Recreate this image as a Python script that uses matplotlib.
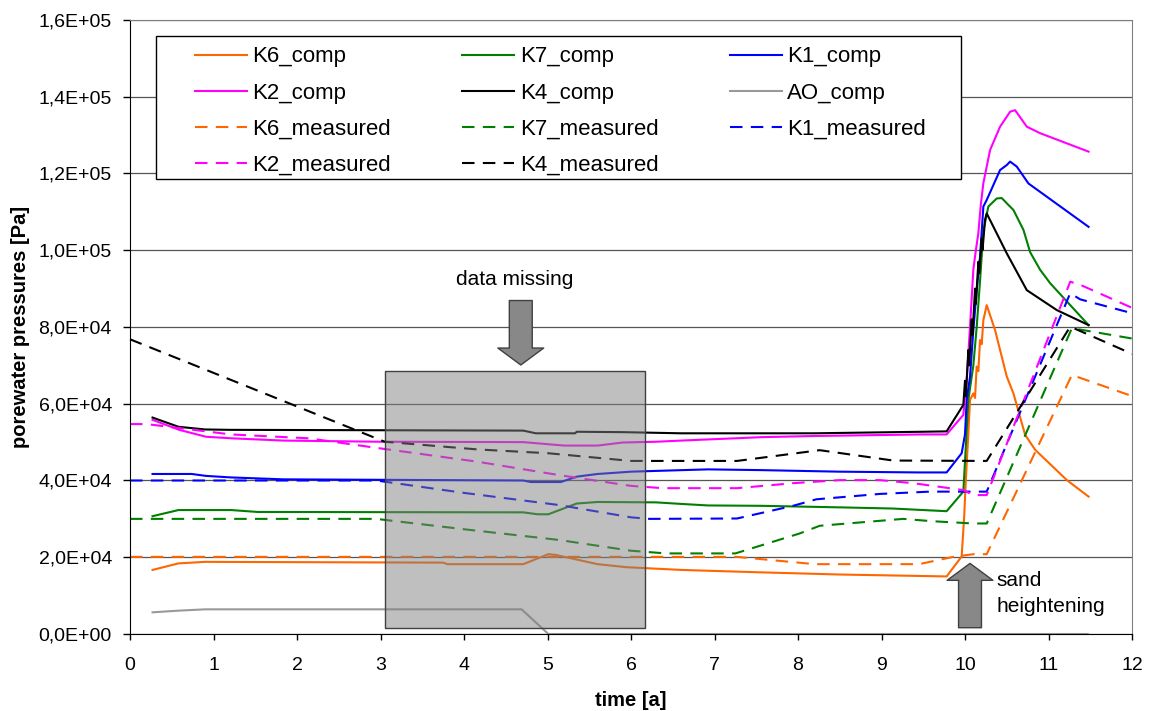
import matplotlib
matplotlib.use('Agg')
import matplotlib.pyplot as plt
from matplotlib.patches import Rectangle
from matplotlib.ticker import FuncFormatter, MultipleLocator

plt.rcParams['font.family'] = ['Liberation Sans', 'DejaVu Sans']

# ---- computed series (time [a], porewater pressure [Pa]) ----
k6_comp_t = [0.27, 0.58, 0.9, 3.75, 3.8, 4.71, 5.01, 5.1, 5.6, 5.95, 6.6, 7.5, 8.5, 9.78,
             9.96, 9.99, 10.01, 10.04, 10.06, 10.1, 10.12, 10.14, 10.16, 10.18, 10.2, 10.22,
             10.26, 10.36, 10.5, 10.58, 10.72, 10.84, 11.22, 11.48]
k6_comp_p = [16700, 18400, 18800, 18600, 18200, 18200, 20800, 20600, 18200, 17400, 16700, 16100, 15500, 15000,
             20200, 30600, 40100, 52300, 61000, 62700, 61500, 69700, 68500, 76600, 75500, 81800,
             85700, 79200, 67100, 62700, 51900, 48000, 40100, 35800]

k7_comp_t = [0.27, 0.58, 1.21, 1.53, 4.71, 4.88, 5.01, 5.35, 5.6, 6.3, 6.6, 6.92, 7.57, 8.5, 9.13, 9.78,
             9.98, 10.0, 10.04, 10.1, 10.14, 10.18, 10.22, 10.28, 10.38, 10.44, 10.52, 10.58, 10.7,
             10.78, 10.9, 11.02, 11.48]
k7_comp_p = [30700, 32300, 32300, 31800, 31700, 31200, 31200, 34000, 34400, 34300, 33900, 33500, 33400, 33000, 32700, 32000,
             37100, 45000, 61000, 70000, 80000, 92000, 105000, 111400, 113500, 113600, 111800, 110500, 105300,
             99500, 94900, 91400, 80500]

k1_comp_t = [0.27, 0.74, 0.91, 1.21, 1.84, 4.71, 4.8, 5.16, 5.35, 5.6, 6.0, 6.3, 6.92, 7.57, 8.5, 9.45, 9.78,
             9.96, 10.0, 10.02, 10.06, 10.1, 10.14, 10.18, 10.22, 10.26, 10.42, 10.5, 10.54, 10.62, 10.76, 11.48]
k1_comp_p = [41700, 41700, 41200, 40800, 40300, 40000, 39600, 39600, 41000, 41700, 42300, 42500, 42900, 42700, 42300, 42100, 42100,
             47100, 52000, 61000, 67000, 79200, 89600, 98300, 111400, 113100, 120900, 122200, 123100, 121800, 117400, 106100]

k2_comp_t = [0.27, 0.59, 0.91, 1.21, 1.84, 3.0, 4.71, 5.2, 5.6, 5.9, 6.3, 6.6, 6.92, 7.25, 7.57, 8.2, 9.48, 9.78,
             9.98, 10.02, 10.06, 10.1, 10.13, 10.16, 10.19, 10.22, 10.3, 10.42, 10.54, 10.6, 10.74, 10.9, 11.48]
k2_comp_p = [55800, 53200, 51400, 51000, 50400, 50100, 50000, 49100, 49100, 49900, 50100, 50400, 50700, 51000, 51300, 51600, 52000, 52000,
             57100, 66000, 80000, 95000, 100000, 104500, 112000, 117500, 126100, 132200, 136100, 136500, 132200, 130500, 125700]

k4_comp_t = [0.27, 0.58, 0.9, 1.2, 4.71, 4.86, 5.33, 5.35, 5.9, 6.6, 8.2, 9.48, 9.78,
             9.98, 10.0, 10.01, 10.04, 10.05, 10.08, 10.09, 10.12, 10.13, 10.16, 10.17, 10.2, 10.21, 10.24,
             10.26, 10.5, 10.74, 11.1, 11.48]
k4_comp_p = [56400, 54000, 53300, 53200, 53000, 52300, 52300, 52700, 52600, 52300, 52300, 52700, 52800,
             59700, 66000, 62000, 74000, 70000, 82000, 78000, 90000, 86000, 97000, 94000, 103000, 100000, 108000,
             109600, 99200, 89600, 84400, 80500]

ao_comp_t = [0.27, 0.58, 0.9, 4.69, 5.01, 11.47]
ao_comp_p = [5650, 6080, 6430, 6430, 0, 0]

# ---- measured series ----
k6_meas_t = [0, 7.27, 8.2, 9.45, 9.86, 10.1, 10.26, 11.28, 12]
k6_meas_p = [20100, 20100, 18200, 18200, 20100, 20800, 20800, 67500, 62000]

k7_meas_t = [0, 2.95, 4.0, 5.14, 6.0, 6.42, 7.25, 8.02, 8.26, 9.26, 9.6, 10.1, 10.26, 11.28, 12]
k7_meas_p = [30000, 30000, 27300, 24500, 21700, 21000, 21000, 26200, 28200, 30000, 29400, 28800, 28800, 79700, 77000]

k1_meas_t = [0, 2.95, 3.99, 5.14, 6.0, 6.22, 7.27, 7.94, 8.22, 8.98, 9.58, 10.26, 11.26, 11.38, 12]
k1_meas_p = [40000, 40000, 36800, 33600, 30400, 30000, 30100, 33400, 35100, 36500, 37100, 37100, 88800, 87200, 83600]

k2_meas_t = [0, 0.2, 1.21, 2.14, 2.92, 4.16, 5.14, 6.0, 6.38, 7.27, 7.94, 8.5, 8.98, 9.38, 9.98, 10.1, 10.26, 11.26, 11.38, 12]
k2_meas_p = [54700, 54700, 52000, 51000, 48600, 44900, 41400, 38600, 38000, 38000, 39300, 40100, 40100, 39300, 37500, 36200, 36200, 91800, 91000, 85000]

k4_meas_t = [0, 3.05, 4.16, 5.01, 6.0, 7.27, 8.26, 9.14, 10.26, 11.26, 12]
k4_meas_p = [76800, 50100, 48100, 47100, 45100, 45100, 47900, 45200, 45100, 80100, 73000]

x_ticks = list(range(0, 13))

# annotation geometry (data coordinates)
box_x0, box_x1, box_y0, box_y1 = 3.05, 6.17, 1560, 68500
miss_x, miss_tip, miss_tail = 4.68, 70100, 86900
sand_x, sand_tip, sand_tail = 10.06, 18400, 1640

ORANGE = '#FF6600'
GREEN = '#008000'
BLUE = '#0000FF'
MAGENTA = '#FF00FF'
BLACK = '#000000'
GREY = '#999999'
DASH = (6, 4)

fig = plt.figure(figsize=(11.49, 7.11), dpi=100)
ax = fig.add_axes([130 / 1149, 77 / 711, 1002 / 1149, 614 / 711])

series = [
    ('K6_comp', k6_comp_t, k6_comp_p, ORANGE, None),
    ('K7_comp', k7_comp_t, k7_comp_p, GREEN, None),
    ('K1_comp', k1_comp_t, k1_comp_p, BLUE, None),
    ('K2_comp', k2_comp_t, k2_comp_p, MAGENTA, None),
    ('K4_comp', k4_comp_t, k4_comp_p, BLACK, None),
    ('AO_comp', ao_comp_t, ao_comp_p, GREY, None),
    ('K6_measured', k6_meas_t, k6_meas_p, ORANGE, DASH),
    ('K7_measured', k7_meas_t, k7_meas_p, GREEN, DASH),
    ('K1_measured', k1_meas_t, k1_meas_p, BLUE, DASH),
    ('K2_measured', k2_meas_t, k2_meas_p, MAGENTA, DASH),
    ('K4_measured', k4_meas_t, k4_meas_p, BLACK, DASH),
]

handles = []
for name, t, p, col, dash in series:
    line, = ax.plot(t, p, color=col, lw=1.5, label=name, clip_on=False,
                    solid_joinstyle='round', zorder=2)
    if dash:
        line.set_dashes(dash)
    handles.append(line)

ax.set_xlim(0, 12)
ax.set_ylim(0, 160000)
ax.set_xticks(x_ticks)
ax.yaxis.set_major_locator(MultipleLocator(20000))
ax.yaxis.set_major_formatter(FuncFormatter(lambda v, pos: f'{v:.1E}'.replace('.', ',')))
ax.yaxis.grid(True, color='#555555', lw=0.9)
ax.set_axisbelow(True)

for s in ['top', 'right']:
    ax.spines[s].set_color('#808080')
for s in ['left', 'bottom']:
    ax.spines[s].set_color('black')

ax.tick_params(axis='x', direction='out', length=4.3, width=1, labelsize=14, pad=12)
ax.tick_params(axis='y', direction='out', length=5, width=1, labelsize=14, pad=8)

ax.set_xlabel('time [a]', fontsize=14.5, fontweight='bold')
ax.set_ylabel('porewater pressures [Pa]', fontsize=14.5, fontweight='bold')
ax.xaxis.set_label_coords(0.5, -0.093)
# rotated label: anchor is its baseline side (right edge)
ax.yaxis.set_label_coords(-0.1, 0.5)

# data missing box (semi transparent, over the lines)
ax.add_patch(Rectangle((box_x0, box_y0), box_x1 - box_x0, box_y1 - box_y0,
                       facecolor='#808080', alpha=0.5, edgecolor='none', zorder=3))
ax.add_patch(Rectangle((box_x0, box_y0), box_x1 - box_x0, box_y1 - box_y0,
                       facecolor='none', edgecolor='#404040', lw=1, zorder=3.1))

arrow_style = 'simple,head_length=1.22,head_width=3.3,tail_width=1.65'
for ax_x, tip, tail in [(miss_x, miss_tip, miss_tail), (sand_x, sand_tip, sand_tail)]:
    ax.annotate('', xy=(ax_x, tip), xytext=(ax_x, tail), zorder=4,
                arrowprops=dict(arrowstyle=arrow_style, mutation_scale=10,
                                fc='#888888', ec='#404040', lw=1,
                                shrinkA=0, shrinkB=0))

ax.text(4.61, 92300, 'data missing', fontsize=15, ha='center', va='center', zorder=4)
ax.text(10.38, 16300, 'sand\nheightening', fontsize=15, ha='left', va='top',
        linespacing=1.45, zorder=4)

# legend, row-major order in 3 columns
order = [0, 3, 6, 9, 1, 4, 7, 10, 2, 5, 8]
ax.add_patch(Rectangle((0.026, 0.741), 0.803, 0.233, transform=ax.transAxes,
                       facecolor='white', edgecolor='black', lw=1, zorder=4.5))
leg = ax.legend([handles[i] for i in order], [series[i][0] for i in order],
                ncol=3, loc='upper left', bbox_to_anchor=(0.0649, 0.957),
                frameon=False, fontsize=16, borderpad=0, borderaxespad=0,
                handlelength=2.34, handletextpad=0.25, columnspacing=3.2,
                labelspacing=0.68)
leg.set_zorder(5)

fig.savefig('out.png', dpi=100)
